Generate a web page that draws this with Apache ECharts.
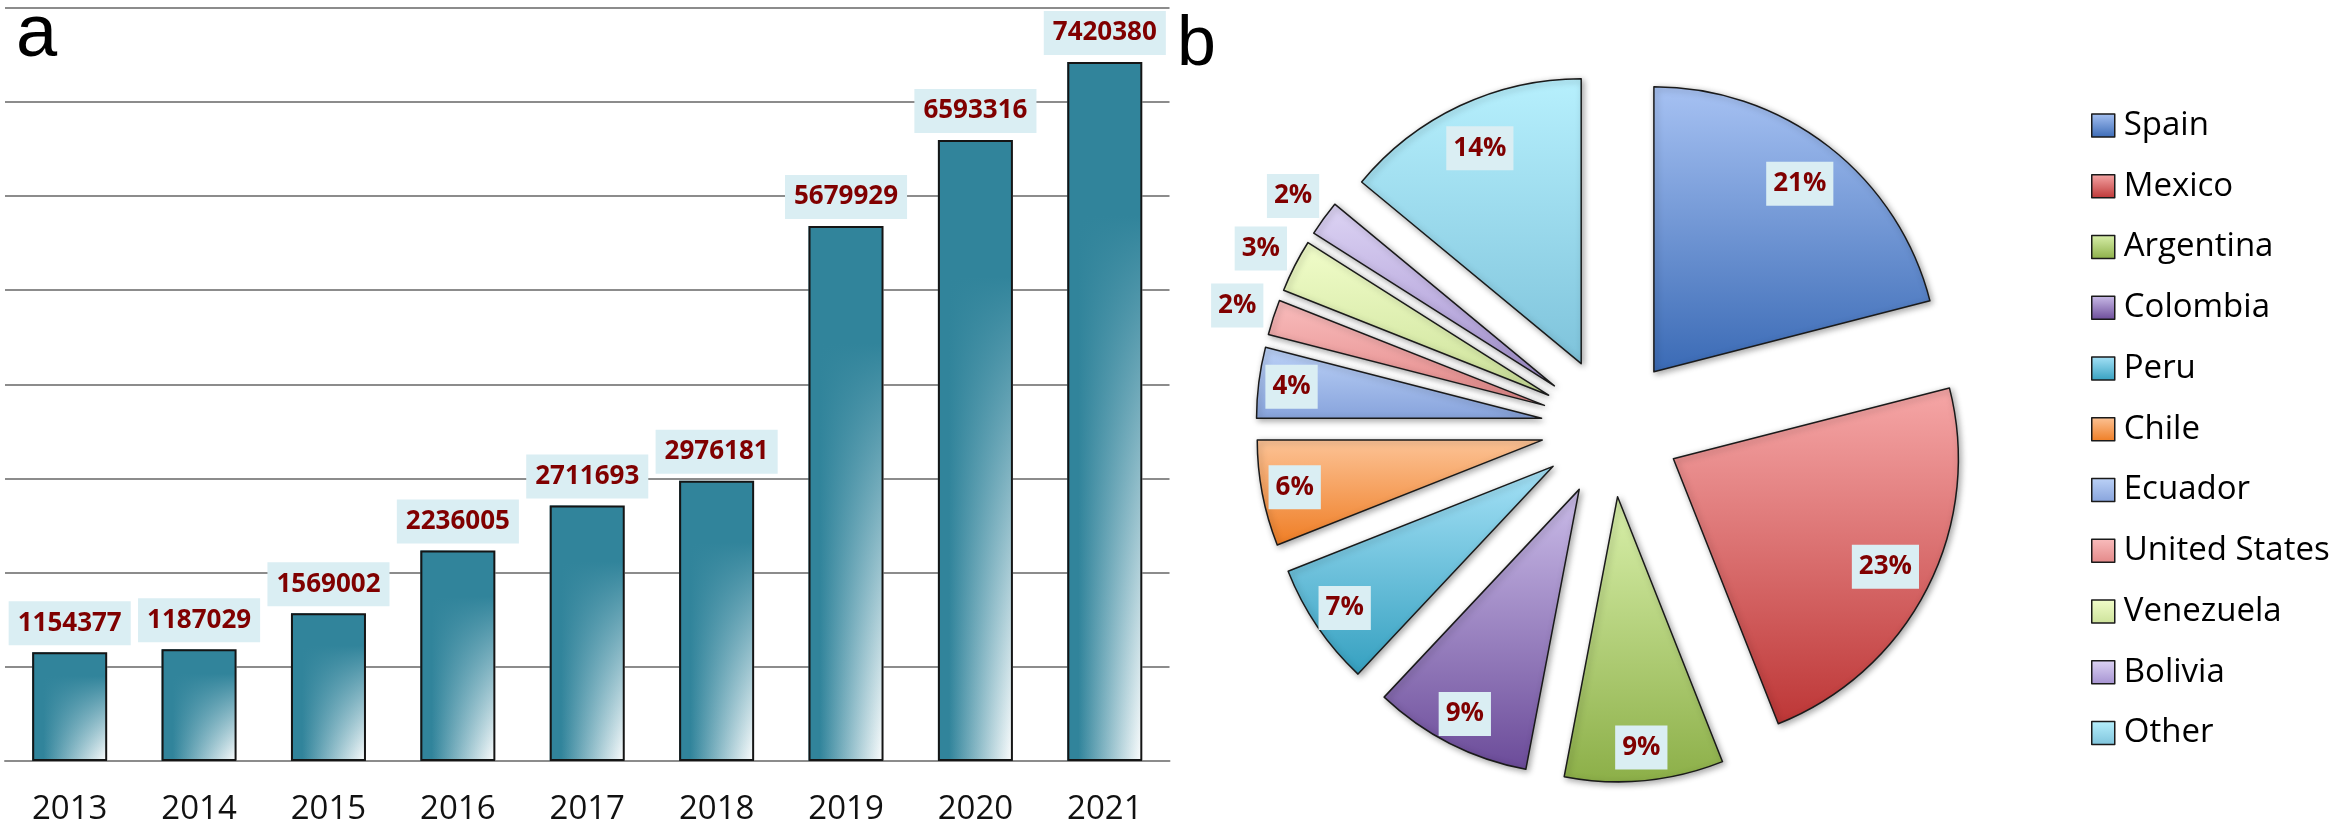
<!DOCTYPE html>
<html>
<head>
<meta charset="utf-8">
<script src="https://cdn.jsdelivr.net/npm/echarts@6/dist/echarts.min.js"></script>
<style>
html,body{margin:0;padding:0;background:#fff;}
#c{width:2341px;height:828px;}
</style>
</head>
<body>
<div id="c"></div>
<script>
// ---- data ----
const years = ['2013', '2014', '2015', '2016', '2017', '2018', '2019', '2020', '2021'];
const users = [1154377, 1187029, 1569002, 2236005, 2711693, 2976181, 5679929, 6593316, 7420380];
const countries = ['Spain', 'Mexico', 'Argentina', 'Colombia', 'Peru', 'Chile', 'Ecuador', 'United States', 'Venezuela', 'Bolivia', 'Other'];
const shares = [21, 23, 9, 9, 7, 6, 4, 2, 3, 2, 14];
const yMin = 0, yMax = 8000000, yStep = 1000000;

// ---- styles ----
const sliceTop = ['#a7c2f3', '#f6a7a7', '#d9f0ab', '#cbbde9', '#a6e2f7', '#fcc396', '#bcd2f7', '#f9bdbd', '#f1fdca', '#ddd4f4', '#b7f0fd'];
const sliceBottom = ['#3a6ab5', '#bd3636', '#8caf48', '#6b4b99', '#35a0c0', '#ef7d24', '#87a3dc', '#e38888', '#cde29a', '#a592d1', '#7ec3db'];
const teal = '#31849B';
const labelRed = '#800000';
const labelBg = '#DAEEF3';

function vGrad(top, bottom) {
  return {type: 'linear', x: 0, y: 0, x2: 0, y2: 1,
    colorStops: [{offset: 0, color: top}, {offset: 1, color: bottom}]};
}
const valueLabel = {
  color: labelRed, fontFamily: 'Open Sans', fontWeight: 'bold', fontSize: 26,
  backgroundColor: labelBg, lineHeight: 26
};

// label placement groups by share size: [test, ring radius]
const labelRings = [
  {test: v => v >= 14, radius: [205, 265]},
  {test: v => v >= 4 && v < 14, radius: [219, 279]},
  {test: v => v < 4, radius: [290, 350]}
];

const chart = echarts.init(document.getElementById('c'), null, {renderer: 'canvas'});

const pieData = countries.map((n, i) => ({
  name: n, value: shares[i], selected: true,
  itemStyle: {color: vGrad(sliceTop[i], sliceBottom[i])}
}));

const pieCenter = [1611, 427];
const pieCommon = {
  type: 'pie', center: pieCenter, startAngle: 90, clockwise: true,
  selectedMode: 'multiple', selectedOffset: 70, avoidLabelOverlap: false,
  minShowLabelAngle: 0, labelLayout: {hideOverlap: false},
  animation: false, emphasis: {disabled: true}, labelLine: {show: false}
};
const ringLabel = Object.assign({position: 'inside', formatter: '{c}%', padding: [9, 7, 9, 7]}, valueLabel);

const labelSeries = labelRings.map((g, k) => Object.assign({}, pieCommon, {
  name: 'labels' + k, radius: g.radius, silent: true,
  data: countries.map((n, i) => ({name: n, value: shares[i], selected: true, label: {show: g.test(shares[i])}})),
  itemStyle: {color: 'rgba(0,0,0,0)', borderWidth: 0},
  select: {itemStyle: {color: 'rgba(0,0,0,0)', borderWidth: 0}},
  label: ringLabel
}));

const option = {
  animation: false,
  backgroundColor: '#fff',
  title: [
    {text: 'a', left: 16, top: -1, padding: 0,
     textStyle: {fontFamily: 'Liberation Sans', fontWeight: 'normal', fontSize: 74, color: '#000'}},
    {text: 'b', left: 1177, top: 11, padding: 0,
     textStyle: {fontFamily: 'Liberation Sans', fontWeight: 'normal', fontSize: 70, color: '#000'}}
  ],
  grid: {left: 5, top: 7.5, width: 1164.5, bottom: 67, containLabel: false},
  xAxis: {
    type: 'category', data: years,
    axisLine: {lineStyle: {color: '#8c8c8c', width: 2}},
    axisTick: {show: false},
    axisLabel: {margin: 32, fontFamily: 'Open Sans', fontSize: 33, color: '#111'}
  },
  yAxis: {
    type: 'value', min: yMin, max: yMax, interval: yStep,
    axisLabel: {show: false}, axisLine: {show: false}, axisTick: {show: false},
    splitLine: {lineStyle: {color: '#8c8c8c', width: 2}}
  },
  legend: {
    data: countries, orient: 'vertical', left: 2091, top: 109, padding: 0,
    itemWidth: 23, itemHeight: 23, itemGap: 27.75, selectedMode: false, icon: 'rect',
    itemStyle: {borderColor: '#1a1a1a', borderWidth: 1.5},
    textStyle: {fontFamily: 'Open Sans', fontSize: 33, color: '#000', padding: [0, 0, 0, 4]}
  },
  series: [
    {
      name: 'base', type: 'bar', data: users, barWidth: 75, barGap: '-100%', silent: true,
      itemStyle: {color: {type: 'linear', x: 0, y: 0, x2: 1, y2: 0,
        colorStops: [{offset: 0, color: teal}, {offset: 0.15, color: teal}, {offset: 1, color: '#ffffff'}]}}
    },
    {
      name: 'users', type: 'bar', data: users, barWidth: 75, barGap: '-100%', silent: true,
      itemStyle: {
        color: {type: 'linear', x: 0, y: 0, x2: 0, y2: 1,
          colorStops: [{offset: 0, color: 'rgba(49,132,155,1)'}, {offset: 0.22, color: 'rgba(49,132,155,1)'}, {offset: 1, color: 'rgba(49,132,155,0)'}]},
        borderColor: '#151515', borderWidth: 2
      },
      label: Object.assign({show: true, position: 'top', distance: 7, padding: [9, 9, 9, 9]}, valueLabel)
    },
    Object.assign({}, pieCommon, {
      name: 'countries', radius: [0, 285], data: pieData,
      label: {show: false},
      itemStyle: {borderColor: '#1a1a1a', borderWidth: 1.5, shadowBlur: 6,
        shadowColor: 'rgba(0,0,0,0.35)', shadowOffsetX: 2, shadowOffsetY: 2},
      select: {itemStyle: {borderColor: '#1a1a1a', borderWidth: 1.5}}
    })
  ].concat(labelSeries)
};
chart.setOption(option);
</script>
</body>
</html>
